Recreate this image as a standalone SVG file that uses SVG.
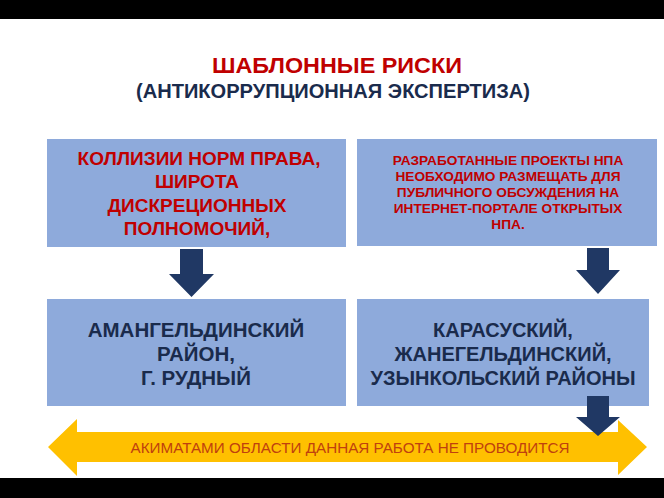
<svg xmlns="http://www.w3.org/2000/svg" width="664" height="498" viewBox="0 0 664 498">
<style>
.box{fill:#8EAADB;}
.red{fill:#C00000;font-family:"Liberation Sans",Arial,sans-serif;font-weight:bold;text-anchor:middle;}
.dark{fill:#1A2B4C;font-family:"Liberation Sans",Arial,sans-serif;font-weight:bold;text-anchor:middle;}
.arr{fill:#203864;}
</style>
<rect x="0" y="0" width="664" height="498" fill="#FFFFFF"/>
<rect x="0" y="0" width="664" height="19" fill="#000000"/>
<rect x="0" y="478" width="664" height="20" fill="#000000"/>
<g id="title">
<text x="337" y="73" class="red" font-size="22" textLength="250" lengthAdjust="spacingAndGlyphs">ШАБЛОННЫЕ РИСКИ</text>
<text x="333" y="98" class="dark" font-size="20" fill="#1A2535" textLength="394" lengthAdjust="spacingAndGlyphs">(АНТИКОРРУПЦИОННАЯ ЭКСПЕРТИЗА)</text>
</g>
<g id="node-kollizii">
<rect class="box" x="47" y="139" width="299" height="108"/>
<text class="red" font-size="19"><tspan x="199" y="165">КОЛЛИЗИИ НОРМ ПРАВА,</tspan><tspan x="197" y="188">ШИРОТА</tspan><tspan x="197" y="212">ДИСКРЕЦИОННЫХ</tspan><tspan x="197" y="235">ПОЛНОМОЧИЙ,</tspan></text>
</g>
<g id="node-proekty">
<rect class="box" x="357" y="139" width="300" height="107"/>
<text class="red" font-size="13.7"><tspan x="508" y="165">РАЗРАБОТАННЫЕ ПРОЕКТЫ НПА</tspan><tspan x="508" y="181">НЕОБХОДИМО РАЗМЕЩАТЬ ДЛЯ</tspan><tspan x="508" y="197">ПУБЛИЧНОГО ОБСУЖДЕНИЯ НА</tspan><tspan x="508" y="213">ИНТЕРНЕТ-ПОРТАЛЕ ОТКРЫТЫХ</tspan><tspan x="508" y="229">НПА.</tspan></text>
</g>
<g id="node-amangeldy">
<rect class="box" x="47" y="299" width="299" height="107"/>
<text class="dark" font-size="20.5"><tspan x="196" y="337">АМАНГЕЛЬДИНСКИЙ</tspan><tspan x="196" y="361">РАЙОН,</tspan><tspan x="196" y="385">Г. РУДНЫЙ</tspan></text>
</g>
<g id="node-karasu">
<rect class="box" x="357" y="299" width="292" height="107"/>
<text class="dark" font-size="20"><tspan x="503" y="337">КАРАСУСКИЙ,</tspan><tspan x="503" y="361">ЖАНЕГЕЛЬДИНСКИЙ,</tspan><tspan x="503" y="385">УЗЫНКОЛЬСКИЙ РАЙОНЫ</tspan></text>
</g>
<g id="node-akimaty">
<polygon fill="#FFC000" points="48,447 77,419 77,432 618,432 618,420 647,447 618,475 618,462 77,462 77,476"/>
<text x="350" y="453" font-family="'Liberation Sans',Arial,sans-serif" font-size="15" fill="#C0400E" text-anchor="middle" textLength="439" lengthAdjust="spacingAndGlyphs">АКИМАТАМИ ОБЛАСТИ ДАННАЯ РАБОТА НЕ ПРОВОДИТСЯ</text>
</g>
<g id="connectors">
<polygon class="arr" points="180,249 203,249 203,274 214,274 191.5,297 169,274 180,274"/>
<polygon class="arr" points="587,248 609,248 609,270 620,270 598,294 576,270 587,270"/>
<polygon class="arr" points="587,396 609,396 609,417 620,417 598,436 576,417 587,417"/>
</g>
</svg>
